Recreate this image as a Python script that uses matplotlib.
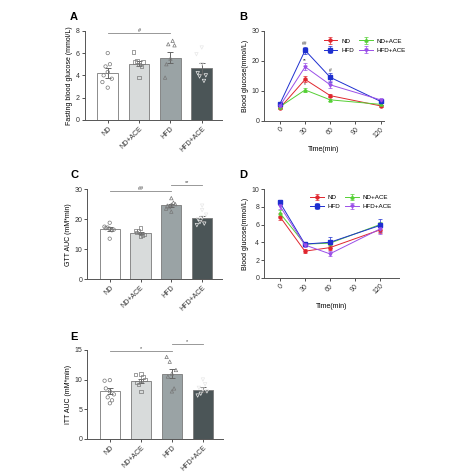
import numpy as np
import matplotlib
matplotlib.use('Agg')
import matplotlib.pyplot as plt

plt.rcParams['font.family'] = ['Liberation Sans', 'DejaVu Sans']
plt.rcParams['font.size'] = 5

groups = ['ND', 'ND+ACE', 'HFD', 'HFD+ACE']
bar_colors = ['#ffffff', '#d8dbdb', '#9aa3a5', '#4b5557']
markers = ['o', 's', '^', 'v']

# panel A: fasting blood glucose
fbg_mean = [4.25, 5.05, 5.6, 4.65]
fbg_err = [0.45, 0.25, 0.5, 0.5]
fbg_pts = [[6.0, 5.0, 4.8, 4.3, 4.0, 3.7, 3.4, 2.9],
           [6.1, 5.3, 5.2, 5.2, 5.0, 4.8, 3.8],
           [7.1, 6.8, 6.7, 5.5, 5.0, 3.8],
           [6.5, 5.9, 5.0, 4.2, 4.0, 3.9, 3.5]]

# panel C: GTT AUC
gtt_mean = [16.8, 15.3, 24.7, 20.3]
gtt_err = [0.6, 0.4, 0.5, 0.9]
gtt_pts = [[18.8, 17.5, 17.2, 17.0, 16.8, 16.5, 16.3, 13.5],
           [17.0, 16.3, 16.0, 15.5, 15.2, 14.8, 14.5, 14.2],
           [27.0, 25.5, 25.0, 24.8, 24.5, 24.0, 23.5, 22.5],
           [24.5, 23.0, 21.5, 20.5, 20.0, 19.0, 18.5, 18.0]]

# panel E: ITT AUC
itt_mean = [8.0, 9.7, 11.0, 8.3]
itt_err = [0.5, 0.35, 0.7, 0.4]
itt_pts = [[9.8, 9.9, 8.5, 8.0, 7.5, 7.0, 6.5, 6.0],
           [10.9, 10.8, 10.4, 10.0, 9.8, 9.5, 9.2, 8.0],
           [13.8, 13.0, 11.6, 11.0, 10.5, 8.5, 8.0],
           [10.0, 9.2, 8.6, 8.3, 8.0, 7.6, 7.3]]

# panels B / D: time courses
times = [0, 30, 60, 120]
line_colors = ['#e0262e', '#55d035', '#1e2fd0', '#9b4fe8']
line_markers = ['o', '^', 's', 'v']
gtt_curve = [[4.3, 13.8, 8.4, 5.0],
             [4.7, 10.3, 7.0, 5.5],
             [5.7, 23.5, 14.5, 6.5],
             [5.0, 18.0, 12.0, 7.0]]
gtt_curve_err = [[0.4, 1.0, 0.5, 0.3],
                 [0.3, 0.8, 0.4, 0.3],
                 [0.4, 1.2, 1.5, 0.4],
                 [0.3, 1.2, 1.2, 0.4]]
itt_curve = [[6.9, 3.0, 3.4, 5.4],
             [7.3, 3.8, 3.9, 6.0],
             [8.5, 3.8, 4.0, 5.9],
             [8.1, 3.7, 2.7, 5.5]]
itt_curve_err = [[0.4, 0.2, 0.3, 0.4],
                 [0.3, 0.2, 0.3, 0.3],
                 [0.3, 0.2, 0.6, 0.7],
                 [0.3, 0.2, 0.3, 0.6]]

spine_c = '#555555'
jitter = [0.0, -0.13, 0.13, -0.07, 0.07, -0.17, 0.17, 0.0]


def style_ax(ax):
    for s in ['top', 'right']:
        ax.spines[s].set_visible(False)
    for s in ['left', 'bottom']:
        ax.spines[s].set_color(spine_c)
        ax.spines[s].set_linewidth(0.7)
    ax.tick_params(colors='#333333', width=0.6, length=2, labelsize=5, pad=1.5)


def bar_panel(ax, mean, err, pts, ymax, yticks, ylabel, sigs):
    x = np.arange(len(groups))
    ax.bar(x, mean, width=0.66, color=bar_colors, edgecolor='#7a7a7a', linewidth=0.6, zorder=1)
    ax.errorbar(x, mean, yerr=err, fmt='none', ecolor='#666666', elinewidth=0.7,
                capsize=2.5, capthick=0.7, zorder=2)
    for i, p in enumerate(pts):
        # points near the mean spread sideways, outliers stay central
        order = np.argsort(np.abs(np.array(p) - mean[i]))
        off = np.zeros(len(p))
        for rank, k in enumerate(order):
            off[k] = jitter[rank % len(jitter)] if rank < 6 else 0.0
        ax.scatter(i + off, p, marker=markers[i], s=6, facecolor='none',
                   edgecolor='#e8e8e8' if i == 3 else '#777777', linewidth=0.5, zorder=3)
    for a, b, y, txt in sigs:
        ax.plot([a, b], [y, y], color='#888888', lw=0.6, clip_on=False)
        ax.text((a + b) / 2, y, txt, ha='center', va='bottom', fontsize=4, color='#444444')
    ax.set_xlim(-0.73, 3.64)
    ax.set_ylim(0, ymax)
    ax.set_yticks(yticks)
    ax.set_xticks(x)
    ax.set_xticklabels(groups, rotation=45, ha='right', rotation_mode='anchor')
    ax.set_ylabel(ylabel, fontsize=5, labelpad=2)
    style_ax(ax)


def line_panel(ax, curves, errs, ymax, yticks, xmax, notes, leg_anchor):
    for i in range(4):
        ax.errorbar(times, curves[i], yerr=errs[i], color=line_colors[i], marker=line_markers[i],
                    ms=2.2, lw=0.7, elinewidth=0.5, capsize=1.2, capthick=0.5, label=groups[i])
    for x, y, txt in notes:
        ax.text(x, y, txt, ha='center', va='bottom', fontsize=3.5, color='#333333')
    ax.set_xlim(-19, xmax)
    ax.set_ylim(0, ymax)
    ax.set_yticks(yticks)
    ax.set_xticks([0, 30, 60, 90, 120])
    ax.set_xticklabels(['0', '30', '60', '90', '120'], rotation=45, ha='right', rotation_mode='anchor')
    ax.set_xlabel('Time(min)', fontsize=5, labelpad=5)
    ax.set_ylabel('Blood glucose(mmol/L)', fontsize=5, labelpad=2)
    h, l = ax.get_legend_handles_labels()
    order = [0, 2, 1, 3]
    ax.legend([h[k] for k in order], [l[k] for k in order], ncol=2, frameon=False,
              fontsize=4.5, loc='upper left', bbox_to_anchor=leg_anchor,
              handlelength=2.2, columnspacing=0.8, handletextpad=0.6, labelspacing=0.6)
    style_ax(ax)


fig = plt.figure(figsize=(4.74, 4.74), dpi=100)

axA = fig.add_axes([0.179, 0.747, 0.289, 0.188])
bar_panel(axA, fbg_mean, fbg_err, fbg_pts, 8, [0, 2, 4, 6, 8],
          'Fasting blood glucose (mmol/L)', [(0, 2, 7.8, '#')])

axB = fig.add_axes([0.557, 0.745, 0.253, 0.19])
line_panel(axB, gtt_curve, gtt_curve_err, 30, [0, 10, 20, 30], 124,
           [(30, 24.9, '##'), (30, 19.3, '**'), (30, 11.3, '*'), (60, 16.0, '#')], (0.45, 0.98))

axC = fig.add_axes([0.184, 0.411, 0.284, 0.19])
bar_panel(axC, gtt_mean, gtt_err, gtt_pts, 30, [0, 10, 20, 30],
          'GTT AUC (mM*min)', [(0, 2, 29.3, '##'), (2, 3, 31.3, '**')])

axD = fig.add_axes([0.557, 0.414, 0.285, 0.187])
line_panel(axD, itt_curve, itt_curve_err, 10, [0, 2, 4, 6, 8, 10], 143,
           [], (0.3, 1.0))

axE = fig.add_axes([0.184, 0.074, 0.286, 0.188])
bar_panel(axE, itt_mean, itt_err, itt_pts, 15, [0, 5, 10, 15],
          'ITT AUC (mM*min)', [(0, 2, 14.8, '*'), (2, 3, 16.0, '*')])

for txt, x, y in [('A', 0.148, 0.965), ('B', 0.505, 0.965), ('C', 0.148, 0.63),
                  ('D', 0.505, 0.63), ('E', 0.148, 0.29)]:
    fig.text(x, y, txt, fontsize=8, fontweight='bold', va='center')

fig.savefig('out.png', dpi=100, facecolor='white')
